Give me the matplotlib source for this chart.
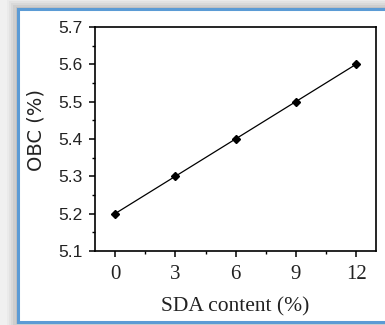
import numpy as np
import matplotlib
matplotlib.use('Agg')
import matplotlib.pyplot as plt
from matplotlib.patches import Rectangle
from matplotlib.ticker import MultipleLocator

# data
sda = [0, 3, 6, 9, 12]
obc = [5.2, 5.3, 5.4, 5.5, 5.6]

plt.rcParams['font.family'] = ['Liberation Serif', 'DejaVu Serif']

fig = plt.figure(figsize=(3.85, 3.25), dpi=100)
fig.patch.set_facecolor('#f0f0f0')

# blurred shadow around the frame
for i, a in enumerate([0.05, 0.07, 0.09, 0.12, 0.15]):
    d = (5 - i) * 0.006
    fig.patches.append(Rectangle((0.047 - d, 0.009 - d), 1.0, 0.963 + 2 * d,
                                 transform=fig.transFigure, facecolor='#808080',
                                 edgecolor='none', alpha=a, zorder=0))
fig.patches.append(Rectangle((0.047, 0.009), 1.0, 0.963, transform=fig.transFigure,
                             facecolor='white', edgecolor='#5b9bd5', lw=2.2, zorder=1))

ax = fig.add_axes([0.247, 0.228, 0.730, 0.689])
ax.set_zorder(5)
ax.set_facecolor('none')
ax.plot(sda, obc, color='black', lw=0.9, marker='D', ms=4.5, mfc='black', mec='black')

ax.set_xlim(-1, 13)
ax.set_ylim(5.1, 5.7)
ax.xaxis.set_major_locator(MultipleLocator(3))
ax.xaxis.set_minor_locator(MultipleLocator(1.5))
ax.yaxis.set_major_locator(MultipleLocator(0.1))
ax.yaxis.set_minor_locator(MultipleLocator(0.05))
ax.yaxis.set_major_formatter(matplotlib.ticker.FormatStrFormatter('%.1f'))

ax.tick_params(which='major', direction='out', length=4, width=1.1)
ax.tick_params(which='minor', direction='out', length=2.5, width=1.0)
ax.tick_params(top=False, right=False)
ax.tick_params(axis='x', labelsize=15, pad=6, colors='#222222')
ax.tick_params(axis='y', labelsize=12.5, pad=5, labelfontfamily='Liberation Sans', colors='#222222')
ax.tick_params(which='both', color='black')
for s in ax.spines.values():
    s.set_linewidth(1.2)

ax.set_xlabel('SDA content (%)', fontsize=15.5, labelpad=10, color='#222222')
ax.set_ylabel('OBC (%)', fontsize=14, family='DejaVu Sans', color='#222222')
ax.yaxis.set_label_coords(-0.175, 0.54)

fig.savefig('out.png', dpi=100, facecolor=fig.get_facecolor())
